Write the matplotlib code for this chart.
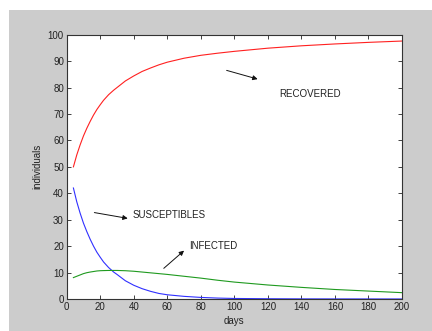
import matplotlib
matplotlib.use("Agg")
import matplotlib.pyplot as plt
from matplotlib.patches import Rectangle

plt.rcParams['font.family'] = ['Liberation Sans', 'DejaVu Sans']

days = [4, 6, 8, 10, 12, 14, 16, 18, 20, 22, 25, 28, 30, 35, 40, 45, 50, 55, 60,
        70, 80, 90, 100, 120, 140, 160, 180, 200]
susceptibles = [42, 36.8, 32.5, 28.7, 25.5, 22.6, 20.0, 17.7, 15.8, 14.0, 11.9, 10.2,
                9.3, 6.9, 5.2, 3.9, 2.9, 2.1, 1.6, 1.0, 0.6, 0.35, 0.2, 0.1, 0.05,
                0.03, 0.02, 0.01]
infected = [8.1, 8.6, 9.1, 9.6, 9.95, 10.2, 10.4, 10.6, 10.7, 10.75, 10.8, 10.8,
            10.8, 10.7, 10.5, 10.2, 9.9, 9.6, 9.3, 8.6, 7.9, 7.1, 6.4, 5.3, 4.4,
            3.6, 3.0, 2.4]
recovered = [50, 54.5, 58.3, 61.7, 64.6, 67.2, 69.6, 71.7, 73.5, 75.2, 77.3, 79.0,
             80.0, 82.5, 84.4, 86.1, 87.4, 88.6, 89.6, 91.1, 92.2, 93.0, 93.7, 94.9,
             95.8, 96.5, 97.1, 97.6]

xticks = list(range(0, 201, 20))
yticks = list(range(0, 101, 10))

fig = plt.figure(figsize=(4.32, 3.31), dpi=100, facecolor='white')
bg = Rectangle((9 / 432, 0), 1 - 9 / 432, (331 - 10) / 331,
               transform=fig.transFigure, facecolor='#cccccc',
               edgecolor='none', zorder=-10)
fig.add_artist(bg)
ax = fig.add_axes([66.7 / 432, (331 - 299) / 331, (402 - 66.7) / 432, (299 - 34.7) / 331])
ax.set_zorder(5)
ax.set_facecolor('white')

ax.plot(days, recovered, color='#ff2020', lw=0.8)
ax.plot(days, susceptibles, color='#3030ff', lw=0.8)
ax.plot(days, infected, color='#1f9a1f', lw=0.8)

ax.set_xlim(0, 200)
ax.set_ylim(0, 100)
ax.set_xticks(xticks)
ax.set_yticks(yticks)
ax.tick_params(direction='in', length=3, width=0.6, top=True, right=True,
               labelsize=7, colors='#222222', pad=2)
for s in ax.spines.values():
    s.set_color('#333333')
    s.set_linewidth(0.8)

ax.set_xlabel('days', fontsize=7, color='#222222', labelpad=3)
ax.set_ylabel('individuals', fontsize=7, color='#222222', labelpad=4)

arrow = dict(arrowstyle='-|>', color='#111111', lw=0.7, mutation_scale=7,
             shrinkA=0, shrinkB=0)
ax.annotate('', xy=(113.9, 83.2), xytext=(95.4, 86.5), arrowprops=arrow)
ax.text(126.5, 77.5, 'RECOVERED', fontsize=7, color='#222222', va='center', ha='left')
ax.annotate('', xy=(36.4, 30.5), xytext=(16.5, 32.7), arrowprops=arrow)
ax.text(39.4, 31.8, 'SUSCEPTIBLES', fontsize=7, color='#222222', va='center', ha='left')
ax.annotate('', xy=(70.0, 18.3), xytext=(57.9, 11.6), arrowprops=arrow)
ax.text(72.8, 20.1, 'INFECTED', fontsize=7, color='#222222', va='center', ha='left')

fig.savefig('out.png', dpi=100, facecolor=fig.get_facecolor())
